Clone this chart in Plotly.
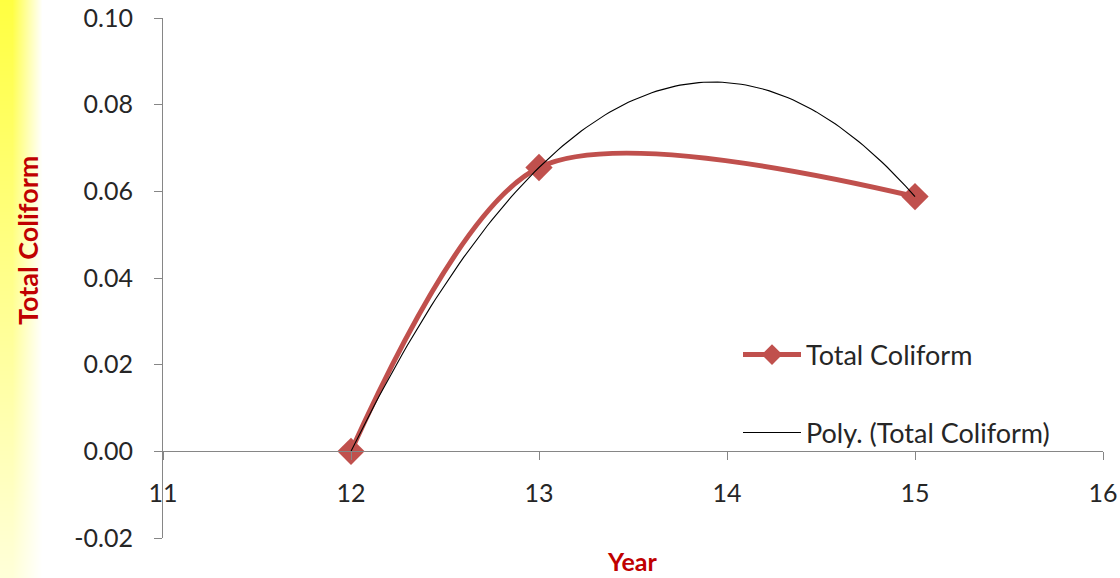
import base64, struct, zlib
import numpy as np
import plotly.graph_objects as go

# ---- data ----
years = [12, 13, 15]
coliform = [0.0, 0.0655, 0.0588]
series_name = "Total Coliform"
trend_name = "Poly. (Total Coliform)"
y_ticks = [-0.02, 0.0, 0.02, 0.04, 0.06, 0.08, 0.10]
x_ticks = [11, 12, 13, 14, 15, 16]

# polynomial (order 2) trendline, fitted to the data as the spreadsheet does
coef = np.polyfit(years, coliform, 2)
trend_x = np.linspace(min(years), max(years), 121)
trend_y = np.polyval(coef, trend_x)

W, H = 1120, 578
L, R, T, B = 163, 17, 18, 40
RED = "#C0504D"
TITLE_RED = "#C00000"
TXT = "#262626"
FONT = "Lato"

# ---- yellow strip image on the left margin ----
def make_png(w, h):
    rows = []
    for yy in range(h):
        vy = 1 - 0.8 * (yy / h)
        row = bytearray([0])
        for xx in range(w):
            hx = 1.0 if xx < 12 else max(0.0, 1 - (xx - 12) / 30)
            f = hx * vy
            row += bytes([255, 255, int(round(255 - f * 190))])
        rows.append(bytes(row))
    raw = b"".join(rows)
    def chunk(t, d):
        c = struct.pack(">I", len(d)) + t + d
        return c + struct.pack(">I", zlib.crc32(t + d) & 0xffffffff)
    png = b"\x89PNG\r\n\x1a\n" + chunk(b"IHDR", struct.pack(">IIBBBBB", w, h, 8, 2, 0, 0, 0))
    png += chunk(b"IDAT", zlib.compress(raw, 9)) + chunk(b"IEND", b"")
    return "data:image/png;base64," + base64.b64encode(png).decode()

pw, ph = W - L - R, H - T - B
def px(xp):
    return (xp - L) / pw
def py(yp):
    return 1 - (yp - T) / ph

fig = go.Figure()
fig.add_trace(go.Scatter(
    x=years, y=coliform, name=series_name, mode="lines+markers",
    line=dict(color=RED, width=5, shape="spline", smoothing=0.85),
    marker=dict(symbol="diamond", size=21, color=RED),
    legend="legend",
))
fig.add_trace(go.Scatter(
    x=trend_x, y=trend_y, name=trend_name, mode="lines",
    line=dict(color="#000000", width=1.1),
    legend="legend2",
))

leg_common = dict(xanchor="left", yanchor="middle", bgcolor="rgba(0,0,0,0)",
                  font=dict(family=FONT, size=27, color=TXT), itemwidth=58)
fig.update_layout(
    width=W, height=H,
    margin=dict(l=L, r=R, t=T, b=B, autoexpand=False),
    paper_bgcolor="white", plot_bgcolor="white",
    font=dict(family=FONT, size=25, color=TXT),
    showlegend=True,
    legend=dict(x=px(738), y=py(355), **leg_common),
    legend2=dict(x=px(738), y=py(433), **leg_common),
    xaxis=dict(range=[11, 16], tickvals=x_ticks, ticktext=[str(v) for v in x_ticks],
               showgrid=False, zeroline=False, showline=True, linecolor="#868686",
               linewidth=1, ticks="outside", ticklen=8, tickcolor="#868686",
               anchor="free", position=(0 - y_ticks[0]) / (y_ticks[-1] - y_ticks[0]),
               ticklabelstandoff=12,
               tickfont=dict(family=FONT, size=25, color=TXT)),
    yaxis=dict(range=[y_ticks[0], y_ticks[-1]], tickvals=y_ticks,
               ticktext=[f"{v:.2f}" for v in y_ticks],
               showgrid=False, zeroline=False, showline=True, linecolor="#868686",
               linewidth=1, ticks="outside", ticklen=8, tickcolor="#868686",
               ticklabelstandoff=16,
               tickfont=dict(family=FONT, size=25, color=TXT)),
    images=[dict(source=make_png(48, H), xref="paper", yref="paper",
                 x=-L / pw, y=1 + T / ph, sizex=48 / pw, sizey=H / ph,
                 sizing="stretch", xanchor="left", yanchor="top", layer="below")],
    annotations=[
        dict(text="<b>Total Coliform</b>", xref="paper", yref="paper",
             x=px(27), y=py(241), showarrow=False, textangle=-90,
             xanchor="center", yanchor="middle",
             font=dict(family=FONT, size=27, color=TITLE_RED)),
        dict(text="<b>Year</b>", xref="paper", yref="paper",
             x=px(632), y=py(561), showarrow=False,
             xanchor="center", yanchor="middle",
             font=dict(family=FONT, size=25, color=TITLE_RED)),
    ],
)

fig.write_html("out.html", config={"displayModeBar": False},
               post_script="document.body.style.margin='0';document.body.style.padding='0';")
